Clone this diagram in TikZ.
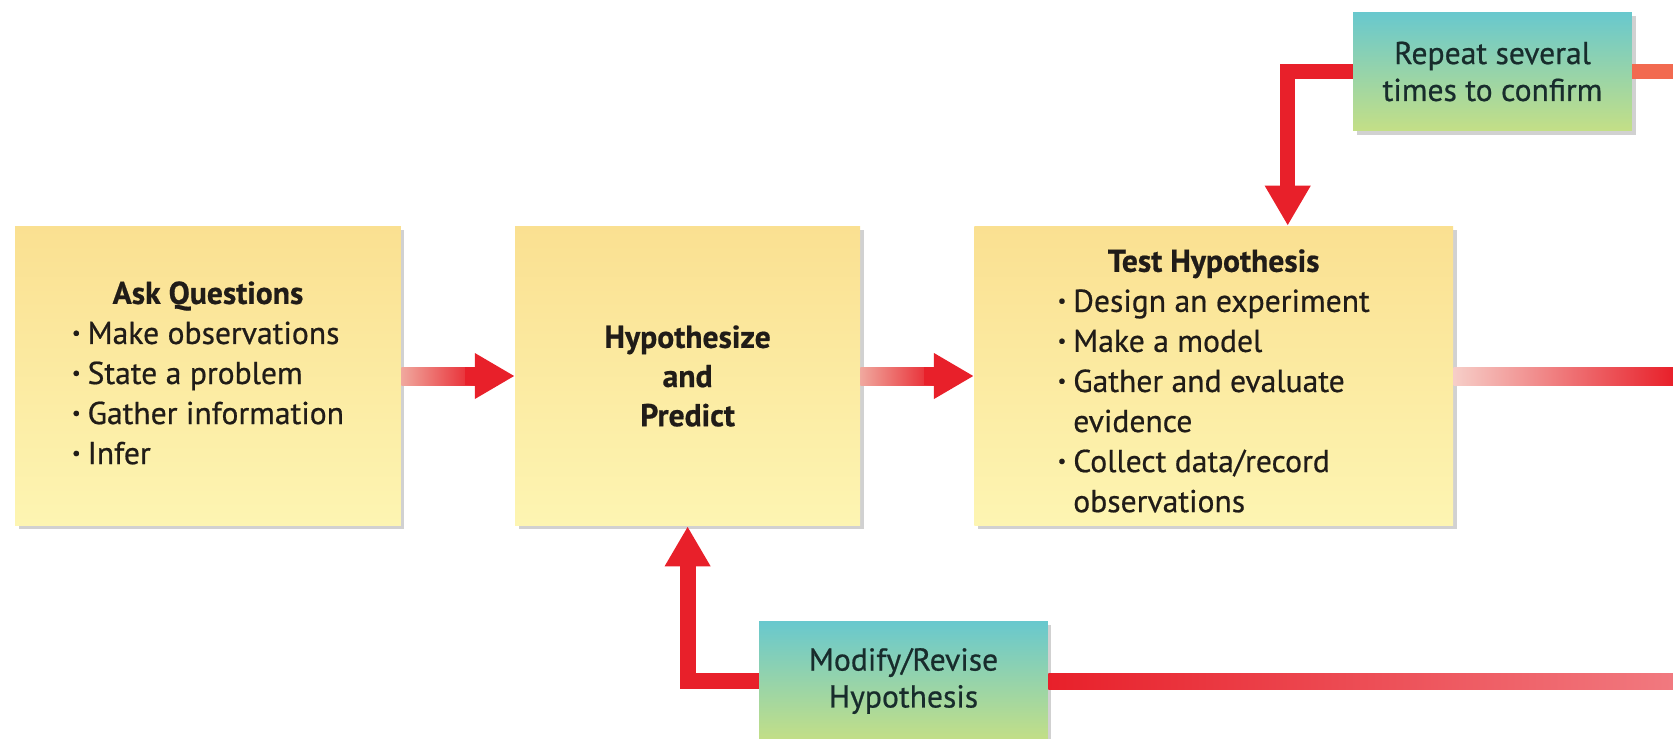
\documentclass[tikz,border=0pt]{standalone}
\usepackage{fontspec}
\setmainfont{PT Sans}
\newfontfamily\boxfont{PT Sans}[FakeBold=0.6]
\usetikzlibrary{positioning, calc, shadows, arrows.meta}
\definecolor{flowred}{RGB}{232, 32, 42}
\definecolor{flowpale}{RGB}{240, 168, 158}
\definecolor{flowfade}{RGB}{246, 206, 200}
\definecolor{flowcoral}{RGB}{242, 106, 80}
\definecolor{stepyel}{RGB}{250, 224, 145}
\definecolor{steplight}{RGB}{253, 245, 178}
\definecolor{noteteal}{RGB}{104, 200, 206}
\definecolor{notegreen}{RGB}{196, 223, 134}
\definecolor{inkdark}{RGB}{32, 28, 24}
\definecolor{inkslate}{RGB}{24, 44, 44}
\newcommand{\bul}{\raisebox{0.3ex}{\scalebox{0.6}{\textbullet}}}
\tikzset{
  stepbox/.style={rectangle, top color=stepyel, bottom color=steplight, minimum height=6cm,
                  text=inkdark, font=\boxfont\fontsize{18}{22.8}\selectfont,
                  drop shadow={shadow xshift=2pt, shadow yshift=-2pt, opacity=0.3, fill=black!60}},
  notebox/.style={rectangle, top color=noteteal, bottom color=notegreen, align=center,
                  text=inkslate, font=\boxfont\fontsize{18}{21}\selectfont,
                  drop shadow={shadow xshift=2pt, shadow yshift=-2pt, opacity=0.3, fill=black!60}},
  flow/.style={draw=flowred, -{Triangle[width=0.86cm, length=0.8cm]}},
}

\begin{document}
\begin{tikzpicture}[x=0.02cm, y=-0.02cm, node distance=2.27cm]
  \useasboundingbox (0,0) rectangle (1673,738);
  \clip (0,0) rectangle (1673,738);

  \node[stepbox, minimum width=7.72cm] (ask) at (208,376) {%
    \begin{tabular}{@{}l@{\hspace{4pt}}l@{}}
      \multicolumn{2}{c}{\bfseries Ask Questions}\\
      \bul & Make observations\\
      \bul & State a problem\\
      \bul & Gather information\\
      \bul & Infer
    \end{tabular}};
  \node[stepbox, minimum width=6.9cm, right=of ask, align=center,
        font=\boxfont\fontsize{18}{22.3}\bfseries\selectfont] (hyp) {Hypothesize\\and\\Predict};
  \node[stepbox, minimum width=9.58cm, inner ysep=0pt, right=of hyp] (test) {%
    \begin{tabular}{@{}l@{\hspace{4pt}}l@{}}
      \multicolumn{2}{c}{\rule{0pt}{25pt}\bfseries Test Hypothesis}\\
      \bul & Design an experiment\\
      \bul & Make a model\\
      \bul & Gather and evaluate\\
           & evidence\\
      \bul & Collect data/record\\
           & observations
    \end{tabular}};

  \node[notebox, minimum width=5.58cm, minimum height=2.38cm] (rep) at (1492.5,71.5) {Repeat several\\times to confirm};
  \node[notebox, minimum width=5.78cm, minimum height=2.4cm] (mod) at (903.5,681) {Modify/Revise\\Hypothesis};

  \coordinate (farmid) at (1673,376);
  \coordinate (fartop) at (1673,71.5);
  \coordinate (farbot) at (1673,681);

  % forward arrows
  \shade[left color=flowpale, right color=flowred] ($(ask.east)+(0,-9)$) rectangle ($(hyp.west)+(-38,9)$);
  \draw[flow, line width=0.36cm] ($(hyp.west)+(-50,0)$) -- (hyp.west);
  \shade[left color=flowpale, right color=flowred] ($(hyp.east)+(0,-9)$) rectangle ($(test.west)+(-38,9)$);
  \draw[flow, line width=0.36cm] ($(test.west)+(-50,0)$) -- (test.west);
  \shade[left color=flowfade, right color=flowred] ($(test.east)+(0,-9)$) rectangle ($(farmid)+(0,9)$);

  % repeat loop
  \draw[flow, line width=0.3cm] (rep.west) -| ($(test.north)+(74,0)$);
  \draw[draw=flowcoral, line width=0.3cm] (rep.east) -- (fartop);

  % revise loop
  \draw[flow, line width=0.32cm] (mod.west) -| (hyp.south);
  \shade[left color=flowred, right color=flowred!60] ($(mod.east)+(0,-8)$) rectangle ($(farbot)+(0,8)$);
\end{tikzpicture}
\end{document}
